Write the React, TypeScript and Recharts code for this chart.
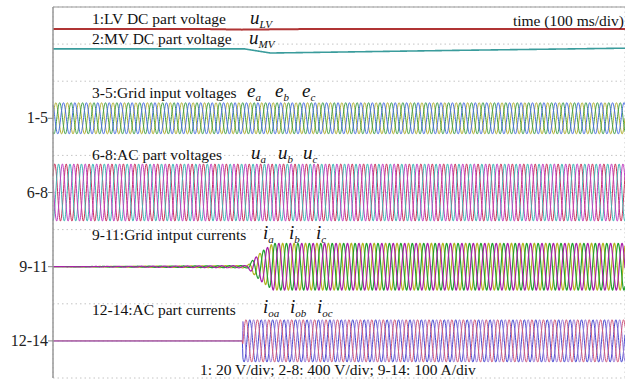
import React from 'react';
import { LineChart, Line, XAxis, YAxis, CartesianGrid, ReferenceLine } from 'recharts';

// ---- axes (time in ms, vertical in scope divisions) ----
const timeTicks = [0, 100, 200, 300, 400, 500, 600, 700, 800, 900, 1000];
const divTicks = [0, 1, 2, 3, 4, 5, 6, 7, 8, 9, 10];
const channelTickDivs = [1, 3, 5, 7];
const channelTickLabels = ['12-14', '9-11', '6-8', '1-5'];

// ---- DC traces (levels, in divisions) ----
const lvTimes = [0, 250, 330, 400, 480, 1000];
const lvLevels = [9.41, 9.41, 9.39, 9.4, 9.41, 9.41];
const mvTimes = [0, 335, 380, 430, 700, 1000];
const mvLevels = [8.87, 8.87, 8.76, 8.77, 8.83, 8.89];

// ---- AC traces ----
const lineFreqHz = 50;
const phaseShiftsDeg = [0, -120, 120];
const sampleStepMs = 0.5;

const gridVoltCenter = 7;
const gridVoltAmp = 0.42;
const acVoltCenter = 5;
const acVoltAmp = 0.77;
const gridCurrCenter = 3;
const gridCurrAmp = 0.63;
const acCurrCenter = 1;
const acCurrAmp = 0.57;

const gridCurrEnvTimes = [0, 340, 350, 365, 385, 1000];
const gridCurrEnvGain = [0, 0.05, 0.3, 0.65, 1, 1];
const acCurrEnvTimes = [0, 331, 332, 1000];
const acCurrEnvGain = [0, 0, 1, 1];

const gridVoltColors = ['#b0b030', '#3e9e4a', '#4a6ee0'];
const acVoltColors = ['#c8305a', '#3fb6b6', '#c040c0'];
const gridCurrColors = ['#b4b420', '#22a030', '#a820a8'];
const acCurrColors = ['#4848d0', '#9a7ad8', '#d0587a'];

function at(times: number[], vals: number[], t: number) {
  for (let i = 1; i < times.length; i++) {
    if (t <= times[i]) {
      const f = (t - times[i - 1]) / (times[i] - times[i - 1] || 1);
      return vals[i - 1] + f * (vals[i] - vals[i - 1]);
    }
  }
  return vals[vals.length - 1];
}

const data: any[] = [];
for (let t = 0; t <= 1000; t += sampleStepMs) {
  const row: any = { t };
  row.lv = at(lvTimes, lvLevels, t);
  row.mv = at(mvTimes, mvLevels, t);
  const gi = at(gridCurrEnvTimes, gridCurrEnvGain, t);
  const ai = at(acCurrEnvTimes, acCurrEnvGain, t);
  phaseShiftsDeg.forEach((p, k) => {
    const ph = 2 * Math.PI * lineFreqHz * (t / 1000) + (p * Math.PI) / 180;
    row['e' + k] = gridVoltCenter + gridVoltAmp * Math.sin(ph);
    row['u' + k] = acVoltCenter + acVoltAmp * Math.sin(ph + 0.6);
    row['i' + k] = gridCurrCenter + gridCurrAmp * gi * Math.sin(ph + 1.1);
    row['o' + k] = acCurrCenter + acCurrAmp * ai * Math.sin(ph + 0.3);
  });
  data.push(row);
}

const serif = "'Liberation Serif', 'DejaVu Serif', 'Times New Roman', serif";

const YTick = (props: any) => {
  const { y, payload } = props;
  const idx = channelTickDivs.indexOf(payload.value);
  if (idx < 0) return <g />;
  return (
    <g>
      <line x1={48} x2={53} y1={y} y2={y} stroke="#888" strokeWidth={1} />
      <text x={48} y={y} dy={5} textAnchor="end" style={{ fontFamily: serif, fontSize: 16 }} fill="#222">
        {channelTickLabels[idx]}
      </text>
    </g>
  );
};

const Sym = ({ x, y, base, sub }: { x: number; y: number; base: string; sub: string }) => (
  <text x={x} y={y} style={{ fontFamily: serif, fontStyle: 'italic', fontSize: 19 }} fill="#111">
    {base}
    <tspan style={{ fontSize: 11 }} dy={4}>{sub}</tspan>
  </text>
);

export default function App() {
  const lines: any[] = [];
  const add = (key: string, color: string, w = 1) =>
    lines.push(
      <Line key={key} dataKey={key} stroke={color} strokeWidth={w} dot={false} isAnimationActive={false} type="linear" />
    );
  [0, 1, 2].forEach((k) => add('e' + k, gridVoltColors[k]));
  [0, 1, 2].forEach((k) => add('u' + k, acVoltColors[k]));
  [0, 1, 2].forEach((k) => add('i' + k, gridCurrColors[k], 1.2));
  [0, 1, 2].forEach((k) => add('o' + k, acCurrColors[k]));

  return (
    <div style={{ position: 'absolute', left: 0, top: 0, width: 625, height: 380, background: '#fff' }}>
      <LineChart width={625} height={380} data={data} margin={{ top: 7, right: 0, left: 0, bottom: 2 }}>
        <CartesianGrid stroke="#c4c4c4" strokeDasharray="1.5 3" />
        <XAxis
          type="number"
          dataKey="t"
          domain={[0, 1000]}
          ticks={timeTicks}
          tick={false}
          tickLine={false}
          height={0}
          axisLine={{ stroke: '#a8a8a8', strokeWidth: 3 }}
        />
        <YAxis
          type="number"
          domain={[0, 10]}
          ticks={divTicks}
          interval={0}
          width={53}
          tickLine={false}
          tick={<YTick />}
          axisLine={{ stroke: '#999', strokeWidth: 1.5 }}
        />
        <ReferenceLine y={10} stroke="#999" strokeWidth={1} />
        {lines}
        <Line dataKey="lv" stroke="#b03434" strokeWidth={2} dot={false} isAnimationActive={false} />
        <Line dataKey="mv" stroke="#3a9c9c" strokeWidth={1.6} dot={false} isAnimationActive={false} />
      </LineChart>
      <svg width={625} height={380} style={{ position: 'absolute', left: 0, top: 0, pointerEvents: 'none' }}>
        <g style={{ fontFamily: serif, fontSize: 15.5 }} fill="#111">
          <text x={92} y={24}>1:LV DC part voltage</text>
          <text x={92} y={44}>2:MV DC part voltage</text>
          <text x={624} y={26} textAnchor="end">time (100 ms/div)</text>
          <text x={92} y={98}>3-5:Grid input voltages</text>
          <text x={92} y={160}>6-8:AC part voltages</text>
          <text x={92} y={240}>9-11:Grid intput currents</text>
          <text x={92} y={315}>12-14:AC part currents</text>
          <text x={200} y={375}>1: 20 V/div; 2-8: 400 V/div; 9-14: 100 A/div</text>
        </g>
        <Sym x={250} y={24} base="u" sub="LV" />
        <Sym x={249} y={44} base="u" sub="MV" />
        <Sym x={247} y={97} base="e" sub="a" />
        <Sym x={275} y={97} base="e" sub="b" />
        <Sym x={302} y={97} base="e" sub="c" />
        <Sym x={251} y={159} base="u" sub="a" />
        <Sym x={278} y={159} base="u" sub="b" />
        <Sym x={303} y={159} base="u" sub="c" />
        <Sym x={263} y={239} base="i" sub="a" />
        <Sym x={289} y={239} base="i" sub="b" />
        <Sym x={316} y={239} base="i" sub="c" />
        <Sym x={263} y={313} base="i" sub="oa" />
        <Sym x={290} y={313} base="i" sub="ob" />
        <Sym x={317} y={313} base="i" sub="oc" />
      </svg>
    </div>
  );
}
